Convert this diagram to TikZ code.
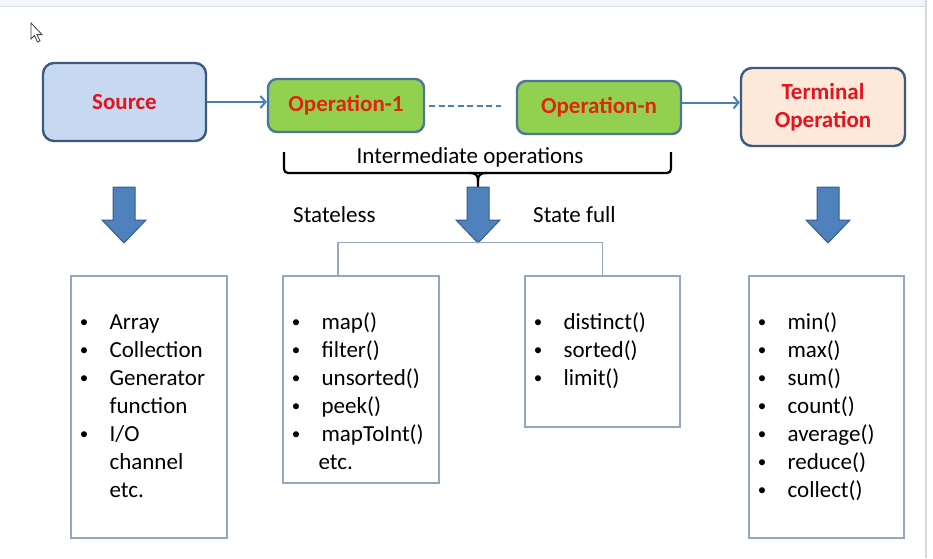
\documentclass[tikz,border=0pt]{standalone}
\usepackage{fontspec}
\setmainfont{Carlito}
\usetikzlibrary{arrows.meta}
\definecolor{srcfill}{HTML}{C6D9F1}
\definecolor{boxborder}{HTML}{3D5A7E}
\definecolor{opfill}{HTML}{92D050}
\definecolor{opborder}{HTML}{4A7799}
\definecolor{termfill}{HTML}{FDE9D9}
\definecolor{redtxt}{HTML}{E3141E}
\definecolor{optxt}{HTML}{E0260E}
\definecolor{conncol}{HTML}{4A7EBB}
\definecolor{arrowfill}{HTML}{4F81BD}
\definecolor{arrowborder}{HTML}{385D8A}
\definecolor{listborder}{HTML}{93A8BF}
\definecolor{bandfill}{HTML}{F3F5F9}
\definecolor{bandline}{HTML}{D4DAE2}
\newcommand\bitem[1]{\makebox[27pt]{\raisebox{1.8pt}{\fontsize{17}{17}\selectfont\textbullet}}\hspace{12pt}#1}
\tikzset{
  rbox/.style={draw=boxborder, line width=2.4pt, rounded corners=11pt, inner sep=0pt, align=center,
    font=\fontsize{23}{28}\selectfont\bfseries, text=redtxt},
  opbox/.style={rbox, draw=opborder, fill=opfill, rounded corners=9pt, text=optxt,
    minimum height=53pt},
  conn/.style={draw=conncol, line width=2pt, -{Straight Barb[length=5pt,width=12pt,line width=2pt]}},
  dashconn/.style={draw=conncol, line width=2pt, dash pattern=on 6pt off 3.5pt},
  listbox/.style={draw=listborder, line width=1.2pt, inner sep=0pt},
  listtext/.style={font=\fontsize{23}{28}\selectfont, align=left, text width=150pt, inner sep=0pt, anchor=base west},
  lbl/.style={font=\fontsize{23}{28}\selectfont, inner sep=0pt},
  bracestyle/.style={draw=black, line width=2.2pt},
  treeline/.style={draw=listborder, line width=1.2pt},
  downarrow/.pic={\filldraw[fill=arrowfill, draw=arrowborder, line width=1pt]
    (-11,0) -- (11,0) -- (11,33) -- (22,33) -- (0,56) -- (-22,33) -- (-11,33) -- cycle;}
}
\begin{document}
\begin{tikzpicture}[x=1pt,y=-1pt]
\useasboundingbox (0,0) rectangle (933,558);
\fill[white] (0,0) rectangle (933,558);
% screen frame
\fill[bandfill] (0,0) rectangle (926,6);
\draw[bandline, line width=1pt] (0,6) -- (926,6);
\draw[bandline, line width=1.2pt] (926,0) -- (926,558);
% cursor
\filldraw[fill=white, draw=black!75, line width=0.8pt]
  (31,23) -- ++(0,16) -- ++(3.5,-3.5) -- ++(3,6.5) -- ++(2.5,-1.2) -- ++(-3,-6.2) -- ++(5,0) -- cycle;

% top row
\node[rbox, fill=srcfill, minimum width=163pt, minimum height=78pt] (src) at (124.5,102) {Source};
\node[opbox, minimum width=156pt] (op1) at (346,105.5) {Operation-1};
\node[opbox, minimum width=164pt] (opn) at (599,107.5) {Operation-n};
\node[rbox, fill=termfill, minimum width=164pt, minimum height=78pt] (term) at (823,107) {Terminal\\Operation};

\draw[conn] (src.east) -- (src.east -| op1.west);
\draw[dashconn] ([xshift=4pt]op1.east) -- ([xshift=-15pt]op1.east -| opn.west);
\draw[conn] ([yshift=5pt]opn.east) -- ([yshift=5pt]opn.east -| term.west);

% brace
\coordinate (brl) at (284,152);
\coordinate (brr) at (671,152);
\coordinate (brm) at (478,187);
\draw[bracestyle, rounded corners=4pt] (brl) -- (284,173) -- (671,173) -- (brr);
\draw[bracestyle] (469,173) .. controls (476,173) and (478,175) .. (478,181) -- (brm);
\draw[bracestyle] (487,173) .. controls (480,173) and (478,175) .. (478,181);
\node[lbl, anchor=base] (inter) at (470,163) {Intermediate operations};

% block arrows
\pic at (124,187) {downarrow};
\pic at (478,187) {downarrow};
\pic at (828,187) {downarrow};

\node[lbl, anchor=base west] (stl) at (293,222) {Stateless};
\node[lbl, anchor=base west] (stf) at (533,222) {State full};

% list boxes
\node[listbox, minimum width=156pt, minimum height=262pt] (srcl) at (149,407) {};
\node[listbox, minimum width=156pt, minimum height=207pt] (sl) at (361,379.5) {};
\node[listbox, minimum width=155pt, minimum height=151pt] (sf) at (602.5,351.5) {};
\node[listbox, minimum width=155pt, minimum height=262pt] (tl) at (826.5,407) {};

\draw[treeline] ([xshift=-23pt]sl.north) -- ++(0,-33) -| (sf.north);

\node[listtext] (srct) at ([yshift=-54pt]srcl.north west) {\bitem{Array}\\\bitem{Collection}\\\bitem{Generator}\\\hspace*{39pt}function\\\bitem{I/O}\\\hspace*{39pt}channel\\\hspace*{39pt}etc.};
\node[listtext] (slt) at ([yshift=-54pt]sl.north west) {\bitem{map()}\\\bitem{filter()}\\\bitem{unsorted()}\\\bitem{peek()}\\\bitem{mapToInt()}\\\hspace*{36pt}etc.};
\node[listtext] (sft) at ([yshift=-54pt]sf.north west) {\bitem{distinct()}\\\bitem{sorted()}\\\bitem{limit()}};
\node[listtext] (tlt) at ([yshift=-54pt]tl.north west) {\bitem{min()}\\\bitem{max()}\\\bitem{sum()}\\\bitem{count()}\\\bitem{average()}\\\bitem{reduce()}\\\bitem{collect()}};
\end{tikzpicture}
\end{document}
